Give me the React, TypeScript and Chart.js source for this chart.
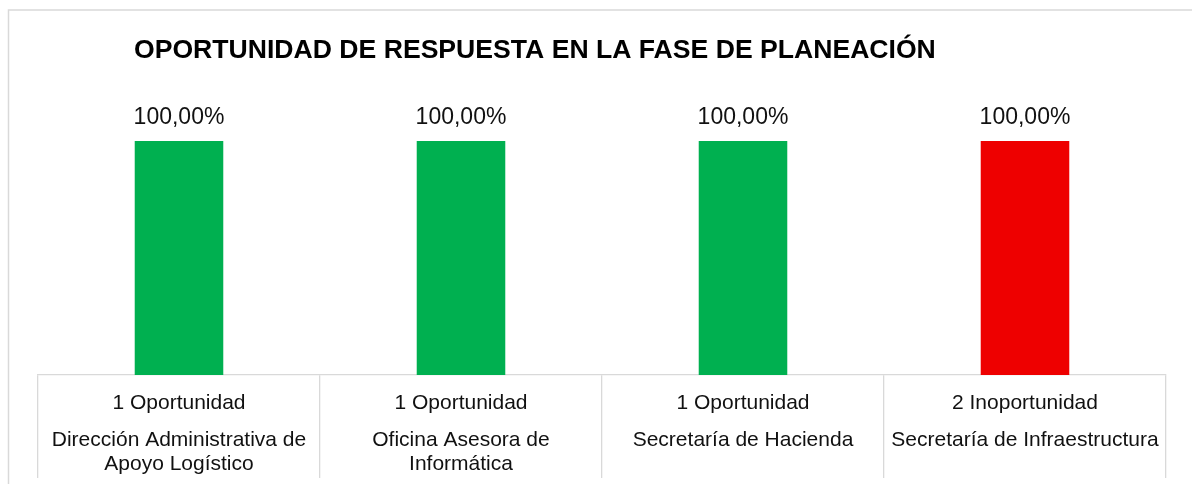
import React, { useEffect, useRef } from "react";
import { Chart, registerables } from "chart.js";

Chart.register(...registerables);

const chartTitle = "OPORTUNIDAD DE RESPUESTA EN LA FASE DE PLANEACIÓN";
const levelLabels = ["1 Oportunidad", "1 Oportunidad", "1 Oportunidad", "2 Inoportunidad"];
const unitLabels = [
  ["Dirección Administrativa de", "Apoyo Logístico"],
  ["Oficina Asesora de", "Informática"],
  ["Secretaría de Hacienda"],
  ["Secretaría de Infraestructura"],
];
const values = [100, 100, 100, 100];
const barColors = ["#00B050", "#00B050", "#00B050", "#EE0000"];

const FONT = "'Liberation Sans', Arial, sans-serif";

const decorPlugin = {
  id: "decor",
  beforeDraw(chart: any) {
    const ctx = chart.ctx;
    ctx.save();
    ctx.fillStyle = "#ffffff";
    ctx.fillRect(0, 0, chart.width, chart.height);
    ctx.strokeStyle = "#D9D9D9";
    ctx.lineWidth = 1.5;
    ctx.strokeRect(8.5, 10, chart.width + 20, chart.height + 20);
    ctx.restore();
  },
  afterDraw(chart: any) {
    const ctx = chart.ctx;
    ctx.save();
    // title
    ctx.fillStyle = "#000000";
    ctx.font = `bold 26.6px ${FONT}`;
    ctx.textAlign = "left";
    ctx.textBaseline = "alphabetic";
    ctx.fillText(chartTitle, 134, 58);

    // data labels
    const meta = chart.getDatasetMeta(0);
    ctx.font = `23px ${FONT}`;
    ctx.textAlign = "center";
    ctx.fillStyle = "#111111";
    meta.data.forEach((bar: any, i: number) => {
      const v = values[i];
      const txt = v.toFixed(2).replace(".", ",") + "%";
      ctx.fillText(txt, bar.x, bar.y - 17);
    });

    // category labels
    const xs = chart.scales.x;
    const axisY = chart.chartArea.bottom;
    ctx.font = `21px ${FONT}`;
    levelLabels.forEach((lab, i) => {
      const x = xs.getPixelForValue(i);
      ctx.fillText(lab, x, axisY + 33.5);
      unitLabels[i].forEach((line, j) => {
        ctx.fillText(line, x, axisY + 71 + j * 24);
      });
    });
    ctx.restore();
  },
};

export default function App() {
  const ref = useRef<HTMLCanvasElement | null>(null);
  useEffect(() => {
    if (!ref.current) return;
    const chart = new Chart(ref.current, {
      type: "bar",
      data: {
        labels: levelLabels,
        datasets: [
          {
            data: values,
            backgroundColor: barColors,
            borderWidth: 0,
            categoryPercentage: 1,
            barPercentage: 0.314,
          },
        ],
      },
      options: {
        responsive: false,
        animation: false,
        layout: { padding: { left: 38, right: 26, top: 141, bottom: 6 } },
        plugins: {
          legend: { display: false },
          title: { display: false },
          tooltip: { enabled: false },
        },
        scales: {
          x: {
            grid: {
              display: true,
              drawOnChartArea: false,
              drawTicks: true,
              tickLength: 103,
              color: "#D9D9D9",
              lineWidth: 1.3,
              offset: true,
            },
            border: { display: true, color: "#D9D9D9", width: 1.3 },
            ticks: { display: false },
          },
          y: {
            display: false,
            min: 0,
            max: 100,
          },
        },
      },
      plugins: [decorPlugin],
    });
    return () => chart.destroy();
  }, []);
  return (
    <canvas
      ref={ref}
      width={1192}
      height={484}
      style={{ position: "absolute", left: 0, top: 0, width: 1192, height: 484 }}
    />
  );
}
